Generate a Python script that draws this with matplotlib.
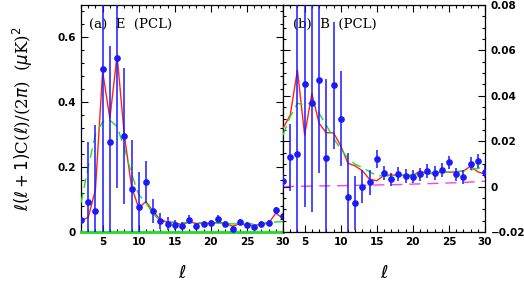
import numpy as np
import matplotlib
matplotlib.use("Agg")
import matplotlib.pyplot as plt
from matplotlib.ticker import MultipleLocator, FixedLocator

# multipoles
ell = list(range(2, 31))

# (a) E-mode, pseudo-Cl
e_obs = [0.038, 0.093, 0.066, 0.503, 0.277, 0.536, 0.295, 0.133, 0.077, 0.155,
         0.066, 0.034, 0.026, 0.022, 0.020, 0.038, 0.017, 0.025, 0.028, 0.041,
         0.026, 0.010, 0.031, 0.023, 0.014, 0.026, 0.028, 0.067, 0.048]
e_err = [0.005, 0.185, 0.265, 0.600, 0.296, 0.400, 0.210, 0.150, 0.108, 0.065,
         0.037, 0.026, 0.020, 0.015, 0.012, 0.014, 0.010, 0.010, 0.010, 0.010,
         0.008, 0.008, 0.008, 0.008, 0.008, 0.008, 0.008, 0.010, 0.010]
e_mean = [0.035, 0.045, 0.130, 0.495, 0.350, 0.545, 0.300, 0.140, 0.074, 0.094,
          0.064, 0.038, 0.030, 0.030, 0.022, 0.032, 0.026, 0.027, 0.026, 0.030,
          0.026, 0.018, 0.025, 0.022, 0.020, 0.024, 0.027, 0.058, 0.042]
e_model = [0.090, 0.200, 0.300, 0.340, 0.345, 0.325, 0.260, 0.180, 0.115, 0.090,
           0.055, 0.036, 0.030, 0.029, 0.029, 0.029, 0.028, 0.028, 0.027, 0.027,
           0.026, 0.025, 0.025, 0.025, 0.025, 0.027, 0.029, 0.031, 0.032]
e_noise = [0.0] * 29

# (b) B-mode, pseudo-Cl
b_obs = [0.0026, 0.0129, 0.0144, 0.0451, 0.0369, 0.0469, 0.0125, 0.0447, 0.0300, -0.0044,
         -0.0073, 0.0000, 0.0020, 0.0120, 0.0059, 0.0032, 0.0056, 0.0048, 0.0044, 0.0054,
         0.0069, 0.0059, 0.0073, 0.0107, 0.0054, 0.0043, 0.0101, 0.0113, 0.0066]
b_err = [0.0033, 0.0147, 0.0700, 0.0540, 0.0480, 0.0410, 0.0350, 0.0280, 0.0210, 0.0190,
         0.0120, 0.0072, 0.0055, 0.0040, 0.0030, 0.0030, 0.0030, 0.0030, 0.0030, 0.0030,
         0.0030, 0.0030, 0.0030, 0.0030, 0.0030, 0.0030, 0.0030, 0.0030, 0.0030]
b_mean = [0.0257, 0.0315, 0.0513, 0.0227, 0.0410, 0.0279, 0.0237, 0.0237, 0.0180, 0.0103,
          0.0091, 0.0070, 0.0032, 0.0026, 0.0050, 0.0051, 0.0050, 0.0048, 0.0048, 0.0070,
          0.0055, 0.0060, 0.0065, 0.0063, 0.0065, 0.0068, 0.0090, 0.0065, 0.0055]
b_model = [0.0227, 0.0308, 0.0367, 0.0360, 0.0370, 0.0323, 0.0271, 0.0213, 0.0165, 0.0125,
           0.0098, 0.0085, 0.0065, 0.0048, 0.0047, 0.0048, 0.0050, 0.0052, 0.0054, 0.0056,
           0.0058, 0.0060, 0.0062, 0.0064, 0.0066, 0.0069, 0.0073, 0.0080, 0.0088]
b_noise = [0.0000, 0.0001, 0.0001, 0.0002, 0.0002, 0.0003, 0.0003, 0.0004, 0.0004, 0.0005,
           0.0005, 0.0006, 0.0006, 0.0007, 0.0008, 0.0008, 0.0009, 0.0010, 0.0011, 0.0012,
           0.0013, 0.0014, 0.0015, 0.0016, 0.0017, 0.0018, 0.0020, 0.0022, 0.0024]

xticks = [5, 10, 15, 20, 25, 30]

BLUE = "#1a1aff"
RED = "#ff2020"
GREEN = "#22dd22"
MAGENTA = "#ee44ee"

fig = plt.figure(figsize=(5.24, 2.85), dpi=100)
axL = fig.add_axes([81 / 524, 53 / 285, 202 / 524, 227 / 285])
axR = fig.add_axes([283 / 524, 53 / 285, 202 / 524, 227 / 285])

tickfont = dict(fontsize=7.5, fontweight="bold", family="DejaVu Sans")


def draw_panel(ax, obs, err, mean, model):
    ax.errorbar(ell, obs, yerr=err, fmt="o", color=BLUE, ms=3.8, elinewidth=1.1,
                capsize=0, zorder=4)
    ax.plot(ell, mean, color=RED, lw=1.0, zorder=3)
    ax.plot(ell, model, color=GREEN, lw=1.0, ls=(0, (7, 4)), zorder=3)


def style_axes(ax):
    ax.set_xlim(2, 30)
    ax.xaxis.set_major_locator(FixedLocator(xticks))
    ax.xaxis.set_minor_locator(MultipleLocator(1))
    ax.tick_params(which="both", direction="in", top=True, right=True, width=0.8)
    ax.tick_params(which="major", length=5)
    ax.tick_params(which="minor", length=2.5)
    for lab in ax.get_xticklabels():
        lab.set_fontsize(7.5)
        lab.set_fontweight("bold")
    for sp in ax.spines.values():
        sp.set_linewidth(0.9)
    ax.set_xlabel(r"$\ell$", fontsize=13, labelpad=12)


# left: E
draw_panel(axL, e_obs, e_err, e_mean, e_model)
axL.plot(ell, e_noise, color=GREEN, lw=2.0, zorder=3, clip_on=False)
axL.set_ylim(0, 0.7)
axL.yaxis.set_major_locator(FixedLocator([0, 0.2, 0.4, 0.6]))
axL.yaxis.set_minor_locator(MultipleLocator(0.04))
axL.set_yticklabels(["0", "0.2", "0.4", "0.6"], **tickfont)
style_axes(axL)
axL.text(0.04, 0.945, "(a)  E  (PCL)", transform=axL.transAxes, fontsize=9.5,
         family="DejaVu Serif", va="top")
axL.set_ylabel(r"$\ell(\ell+1)$C($\ell$)/(2$\pi$)  ($\mu$K)$^2$", fontsize=12,
               family="DejaVu Serif", labelpad=16)

# right: B
draw_panel(axR, b_obs, b_err, b_mean, b_model)
axR.plot(ell, b_noise, color=MAGENTA, lw=1.0, ls=(0, (8, 5)), zorder=2)
axR.set_ylim(-0.02, 0.08)
axR.yaxis.set_major_locator(FixedLocator([-0.02, 0, 0.02, 0.04, 0.06, 0.08]))
axR.yaxis.set_minor_locator(MultipleLocator(0.005))
axR.yaxis.tick_right()
axR.tick_params(axis="y", which="both", left=True, labelleft=False, labelright=True)
axR.set_yticklabels(["\u22120.02", "0", "0.02", "0.04", "0.06", "0.08"], **tickfont)
style_axes(axR)
axR.tick_params(axis="y", which="both", pad=4)
axR.text(0.05, 0.945, "(b)  B  (PCL)", transform=axR.transAxes, fontsize=9.5,
         family="DejaVu Serif", va="top")

fig.savefig("out.png", dpi=100)
